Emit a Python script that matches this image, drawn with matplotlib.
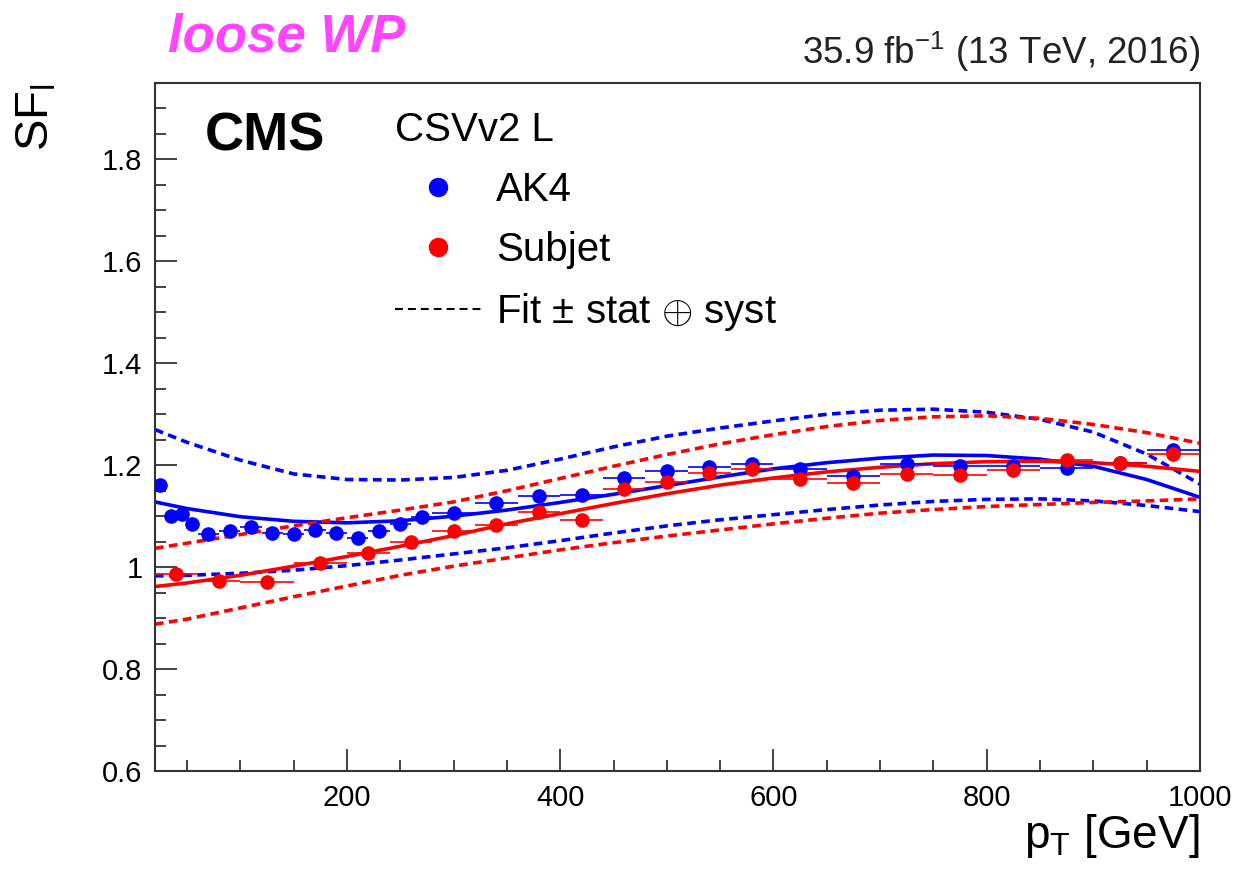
import numpy as np
import matplotlib
matplotlib.use("Agg")
import matplotlib.pyplot as plt
from matplotlib.lines import Line2D
from matplotlib.ticker import MultipleLocator, FuncFormatter

plt.rcParams['font.family'] = ['Liberation Sans', 'DejaVu Sans']
plt.rcParams['mathtext.fontset'] = 'custom'
plt.rcParams['mathtext.rm'] = 'Liberation Sans'
plt.rcParams['mathtext.it'] = 'Liberation Sans:italic'

# AK4 jets: bin edges in pT [GeV] and measured SF
ak4_lo = [20, 30, 40, 50, 60, 80, 100, 120, 140, 160, 180, 200, 220, 240, 260, 280,
          320, 360, 400, 440, 480, 520, 560, 600, 650, 700, 750, 800, 850, 900, 950]
ak4_hi = [30, 40, 50, 60, 80, 100, 120, 140, 160, 180, 200, 220, 240, 260, 280, 320,
          360, 400, 440, 480, 520, 560, 600, 650, 700, 750, 800, 850, 900, 950, 1000]
ak4_sf = [1.161, 1.101, 1.104, 1.084, 1.065, 1.070, 1.078, 1.068, 1.065, 1.073, 1.067,
          1.057, 1.071, 1.085, 1.099, 1.106, 1.125, 1.139, 1.141, 1.174, 1.189, 1.196,
          1.202, 1.192, 1.178, 1.203, 1.199, 1.198, 1.194, 1.204, 1.229]
ak4_err = [0.006, 0.004, 0.004, 0.004, 0.004, 0.004, 0.004, 0.004, 0.004, 0.004, 0.004,
           0.004, 0.004, 0.004, 0.004, 0.004, 0.005, 0.005, 0.005, 0.006, 0.006, 0.006,
           0.007, 0.007, 0.008, 0.008, 0.009, 0.009, 0.010, 0.011, 0.012]

# Subjets
sub_lo = [20, 60, 100, 150, 200, 240, 280, 320, 360, 400, 440, 480, 520, 560,
          600, 650, 700, 750, 800, 850, 900, 950]
sub_hi = [60, 100, 150, 200, 240, 280, 320, 360, 400, 440, 480, 520, 560, 600,
          650, 700, 750, 800, 850, 900, 950, 1000]
sub_sf = [0.987, 0.973, 0.970, 1.008, 1.027, 1.050, 1.071, 1.082, 1.109, 1.093, 1.153,
          1.167, 1.184, 1.192, 1.173, 1.165, 1.183, 1.181, 1.191, 1.210, 1.204, 1.222]
sub_err = [0.010, 0.008, 0.008, 0.012, 0.010, 0.010, 0.012, 0.012, 0.012, 0.012, 0.012,
           0.012, 0.012, 0.012, 0.012, 0.012, 0.012, 0.012, 0.012, 0.012, 0.012, 0.012]

# fit curves (central, up, down) sampled along pT
fit_pt = [20, 50, 100, 150, 200, 250, 300, 350, 400, 450, 500, 550, 600, 650, 700,
          750, 800, 850, 900, 950, 1000]
ak4_fit = [1.128, 1.115, 1.099, 1.090, 1.087, 1.091, 1.100, 1.112, 1.127, 1.143, 1.160,
           1.177, 1.193, 1.205, 1.214, 1.220, 1.219, 1.212, 1.198, 1.172, 1.137]
ak4_up = [1.270, 1.245, 1.210, 1.183, 1.172, 1.171, 1.176, 1.190, 1.212, 1.236, 1.257,
          1.273, 1.287, 1.300, 1.308, 1.310, 1.304, 1.290, 1.265, 1.222, 1.163]
ak4_dn = [0.983, 0.984, 0.988, 0.994, 1.003, 1.014, 1.026, 1.038, 1.052, 1.067, 1.081,
          1.093, 1.103, 1.113, 1.122, 1.129, 1.133, 1.134, 1.130, 1.121, 1.109]
sub_fit = [0.962, 0.969, 0.984, 1.002, 1.021, 1.041, 1.062, 1.085, 1.105, 1.125, 1.144,
           1.161, 1.175, 1.187, 1.196, 1.203, 1.207, 1.208, 1.205, 1.198, 1.188]
sub_up = [1.037, 1.047, 1.064, 1.081, 1.097, 1.112, 1.128, 1.150, 1.174, 1.198, 1.221,
          1.242, 1.260, 1.276, 1.288, 1.295, 1.297, 1.292, 1.280, 1.264, 1.243]
sub_dn = [0.888, 0.898, 0.920, 0.942, 0.963, 0.984, 1.002, 1.018, 1.034, 1.048, 1.061,
          1.073, 1.085, 1.096, 1.106, 1.113, 1.119, 1.123, 1.127, 1.130, 1.134]

blue = '#0000ff'
red = '#ff0000'
dash = (0, (2.4, 1.5))

fig = plt.figure(figsize=(12.39, 8.84), dpi=100)
ax = fig.add_axes([0.1251, 0.1278, 0.8434, 0.7783])

def draw_points(lo, hi, sf, err, col):
    lo = np.array(lo)
    hi = np.array(hi)
    x = (lo + hi) / 2
    ax.errorbar(x, sf, xerr=(hi - lo) / 2, yerr=err, fmt='o', color=col, ms=9.5,
                elinewidth=1.2, capsize=0, zorder=3)

draw_points(ak4_lo, ak4_hi, ak4_sf, ak4_err, blue)
draw_points(sub_lo, sub_hi, sub_sf, sub_err, red)

ax.plot(fit_pt, ak4_fit, color=blue, lw=2.6, zorder=2)
ax.plot(fit_pt, ak4_up, color=blue, lw=2.6, ls=dash, zorder=2)
ax.plot(fit_pt, ak4_dn, color=blue, lw=2.6, ls=dash, zorder=2)
ax.plot(fit_pt, sub_fit, color=red, lw=2.6, zorder=2)
ax.plot(fit_pt, sub_up, color=red, lw=2.6, ls=dash, zorder=2)
ax.plot(fit_pt, sub_dn, color=red, lw=2.6, ls=dash, zorder=2)

ax.set_xlim(20, 1000)
ax.set_ylim(0.6, 1.95)
ax.xaxis.set_major_locator(MultipleLocator(200))
ax.xaxis.set_minor_locator(MultipleLocator(50))
ax.yaxis.set_major_locator(MultipleLocator(0.2))
ax.yaxis.set_minor_locator(MultipleLocator(0.05))
ax.yaxis.set_major_formatter(FuncFormatter(lambda v, _: f'{v:g}'))
ax.tick_params(which='both', direction='in', top=False, right=False, width=1.2,
               color='#222222', labelsize=21, pad=9)
ax.tick_params(which='major', length=16)
ax.tick_params(which='minor', length=8)
for s in ax.spines.values():
    s.set_linewidth(1.5)
    s.set_color('#333333')

ax.set_xlabel(r'p$_\mathrm{T}$ [GeV]', fontsize=33, loc='right')
ax.xaxis.set_label_coords(1.0, -0.06)
ax.set_ylabel(r'SF$_\mathrm{l}$', fontsize=34, loc='top')
ax.yaxis.set_label_coords(-0.092, 1.0)

ax.text(0.048, 0.9026, 'CMS', transform=ax.transAxes, fontsize=39,
        fontweight='bold', va='baseline')

handles = [Line2D([], [], marker='o', ls='none', color=blue, ms=13),
           Line2D([], [], marker='o', ls='none', color=red, ms=13),
           Line2D([], [], color='black', lw=1.5, ls=(0, (3.8, 2.4)))]
labels = ['AK4', 'Subjet', r'Fit $\pm$ stat $\oplus$ syst']
ax.legend(handles, labels, title='CSVv2 L', loc='upper left',
          bbox_to_anchor=(0.2297, 0.96), frameon=False, fontsize=29,
          title_fontsize=29, handlelength=2.15, handletextpad=0.35,
          labelspacing=0.55, borderpad=0, borderaxespad=0, alignment='left')

fig.text(168 / 1239, 1 - 52 / 884, 'loose WP', fontsize=38, fontweight='bold',
         fontstyle='italic', color='#ff45ff', va='baseline')
fig.text(0.9685, 1 - 64 / 884, r'35.9 fb$^{-1}$ (13 TeV, 2016)', fontsize=26.5,
         ha='right', va='baseline', color='#222222')

fig.savefig('out.png', dpi=100)
